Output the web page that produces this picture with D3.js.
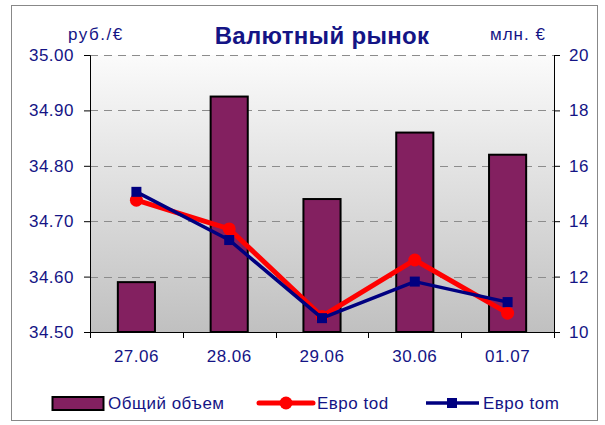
<!DOCTYPE html>
<html><head><meta charset="utf-8">
<script src="https://cdn.jsdelivr.net/npm/d3@7/dist/d3.min.js"></script>
<style>
html,body{margin:0;padding:0;background:#fff;}
svg{display:block;font-family:"Liberation Sans",Arial,sans-serif;}
</style></head>
<body>
<svg id="c" width="605" height="425"></svg>
<script>
const categories = ["27.06","28.06","29.06","30.06","01.07"];
const totalVolume = [11.8, 18.5, 14.8, 17.2, 16.4];
const euroTod = [34.738, 34.686, 34.528, 34.630, 34.534];
const euroTom = [34.753, 34.666, 34.525, 34.591, 34.554];
const leftTicks = [34.5, 34.6, 34.7, 34.8, 34.9, 35.0];
const rightTicks = [10, 12, 14, 16, 18, 20];

const svg = d3.select("#c");
const txt = "#141485";
const L = 90, R = 554, T = 55, B = 332;

// outer frame
svg.append("rect").attr("x",11.5).attr("y",5.5).attr("width",586).attr("height",415)
  .attr("fill","#fff").attr("stroke","#888").attr("stroke-width",1);

const defs = svg.append("defs");
const g = defs.append("linearGradient").attr("id","bg").attr("x1",0).attr("y1",0).attr("x2",0).attr("y2",1);
g.append("stop").attr("offset","0%").attr("stop-color","#fbfbfb");
g.append("stop").attr("offset","100%").attr("stop-color","#c0c0c0");

svg.append("rect").attr("x",L).attr("y",T).attr("width",R-L).attr("height",B-T).attr("fill","url(#bg)");

const x = d3.scaleBand().domain(categories).range([L,R]).paddingInner(0).paddingOuter(0);
const yL = d3.scaleLinear().domain([34.5,35.0]).range([B,T]);
const yR = d3.scaleLinear().domain([10,20]).range([B,T]);

// gridlines
svg.append("g").selectAll("line").data(leftTicks.slice(1)).join("line")
  .attr("x1",L).attr("x2",R).attr("y1",d=>Math.round(yL(d))+0.5).attr("y2",d=>Math.round(yL(d))+0.5)
  .attr("stroke","#8c8c8c").attr("stroke-width",1).attr("stroke-dasharray","8,6");

// bars
const bw = x.bandwidth()*0.4;
svg.append("g").selectAll("rect").data(totalVolume).join("rect")
  .attr("x",(d,i)=>x(categories[i])+x.bandwidth()/2-bw/2)
  .attr("y",d=>yR(d)).attr("width",bw).attr("height",d=>B-yR(d))
  .attr("fill","#832060").attr("stroke","#000").attr("stroke-width",2);

// axes
const axL = d3.axisLeft(yL).tickValues(leftTicks).tickFormat(d3.format(".2f")).tickSize(6).tickPadding(10);
const gl = svg.append("g").attr("transform",`translate(${L},0)`).call(axL);
const axR = d3.axisRight(yR).tickValues(rightTicks).tickFormat(d3.format("d")).tickSize(6).tickPadding(9);
const gr = svg.append("g").attr("transform",`translate(${R},0)`).call(axR);
const axB = d3.axisBottom(x).tickSize(0).tickPadding(18);
const gb = svg.append("g").attr("transform",`translate(0,${B})`).call(axB);
[gl,gr,gb].forEach(a=>{
  a.select(".domain").attr("stroke","#000");
  a.selectAll(".tick line").attr("stroke","#000");
  a.selectAll("text").attr("fill",txt).attr("font-size",17).attr("letter-spacing","0.5px")
    .attr("font-family","Liberation Sans, Arial, sans-serif");
});
// bottom boundary ticks
const bounds = categories.map(c=>x(c)).concat([R]);
svg.append("g").selectAll("line").data(bounds).join("line")
  .attr("x1",d=>Math.round(d)+0.5).attr("x2",d=>Math.round(d)+0.5).attr("y1",B).attr("y2",B+6).attr("stroke","#000");

// lines
const cx = i => x(categories[i])+x.bandwidth()/2;
const lineL = d3.line().x((d,i)=>cx(i)).y(d=>yL(d));
svg.append("path").datum(euroTod).attr("d",lineL).attr("fill","none").attr("stroke","#ff0000").attr("stroke-width",5).attr("stroke-linejoin","round");
svg.append("g").selectAll("circle").data(euroTod).join("circle")
  .attr("cx",(d,i)=>cx(i)).attr("cy",d=>yL(d)).attr("r",6.5).attr("fill","#ff0000");
svg.append("path").datum(euroTom).attr("d",lineL).attr("fill","none").attr("stroke","#000080").attr("stroke-width",3.5).attr("stroke-linejoin","round");
svg.append("g").selectAll("rect").data(euroTom).join("rect")
  .attr("x",(d,i)=>cx(i)-5).attr("y",d=>yL(d)-5).attr("width",10).attr("height",10).attr("fill","#000080");

// titles
svg.append("text").attr("x",322).attr("y",44).attr("text-anchor","middle").attr("font-size",24).attr("font-weight","bold").attr("letter-spacing","0.3px").attr("fill",txt).text("Валютный  рынок");
svg.append("text").attr("x",68).attr("y",40).attr("font-size",17).attr("letter-spacing","1.5px").attr("fill",txt).text("руб./€");
svg.append("text").attr("x",490).attr("y",40).attr("font-size",17).attr("letter-spacing","1px").attr("fill",txt).text("млн. €");

// legend
const lg = svg.append("g");
lg.append("rect").attr("x",52.5).attr("y",397).attr("width",51).attr("height",13).attr("fill","#832060").attr("stroke","#000").attr("stroke-width",2);
lg.append("text").attr("x",108).attr("y",409).attr("font-size",17).attr("letter-spacing","0.5px").attr("fill",txt).text("Общий объем");
lg.append("line").attr("x1",259).attr("x2",313).attr("y1",403).attr("y2",403).attr("stroke","#ff0000").attr("stroke-width",5).attr("stroke-linecap","round");
lg.append("circle").attr("cx",286).attr("cy",403).attr("r",6.5).attr("fill","#ff0000");
lg.append("text").attr("x",317).attr("y",409).attr("font-size",17).attr("letter-spacing","0.5px").attr("fill",txt).text("Евро tod");
lg.append("line").attr("x1",426).attr("x2",479).attr("y1",403).attr("y2",403).attr("stroke","#000080").attr("stroke-width",3.5);
lg.append("rect").attr("x",447).attr("y",398).attr("width",10).attr("height",10).attr("fill","#000080");
lg.append("text").attr("x",483).attr("y",409).attr("font-size",17).attr("letter-spacing","0.5px").attr("fill",txt).text("Евро tom");
</script>
</body></html>
